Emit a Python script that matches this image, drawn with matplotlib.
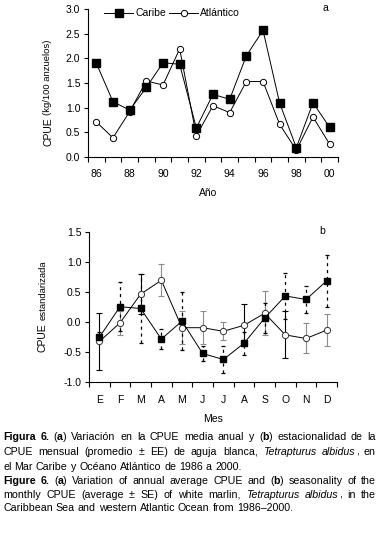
import matplotlib
matplotlib.use("Agg")
import matplotlib.pyplot as plt
from matplotlib.lines import Line2D
from matplotlib.ticker import FormatStrFormatter
import numpy as np

plt.rcParams['font.family'] = ['Liberation Sans', 'DejaVu Sans']
plt.rcParams['axes.unicode_minus'] = False

# panel a: annual CPUE
years = [1986, 1987, 1988, 1989, 1990, 1991, 1992, 1993, 1994, 1995, 1996, 1997, 1998, 1999, 2000]
caribe_anual = [1.90, 1.12, 0.95, 1.41, 1.91, 1.88, 0.59, 1.27, 1.17, 2.05, 2.57, 1.09, 0.19, 1.10, 0.60]
atlantico_anual = [0.71, 0.39, 0.92, 1.54, 1.46, 2.19, 0.43, 1.04, 0.90, 1.53, 1.53, 0.66, 0.14, 0.81, 0.26]

# panel b: monthly standardised CPUE (mean +/- SE)
meses = ['E', 'F', 'M', 'A', 'M', 'J', 'J', 'A', 'S', 'O', 'N', 'D']
caribe_mes = [-0.26, 0.25, 0.22, -0.29, 0.01, -0.53, -0.63, -0.36, 0.06, 0.43, 0.37, 0.68]
caribe_ee = [0.08, 0.41, 0.58, 0.17, 0.48, 0.12, 0.23, 0.19, 0.25, 0.38, 0.23, 0.43]
atlantico_mes = [-0.33, -0.02, 0.46, 0.69, -0.10, -0.10, -0.16, -0.06, 0.14, -0.22, -0.28, -0.14]
atlantico_ee = [0.48, 0.20, 0.34, 0.27, 0.27, 0.27, 0.15, 0.35, 0.37, 0.39, 0.25, 0.27]
# bars of the Atlantic series that come out black instead of grey
atl_negro = [True, False, True, False, False, False, False, True, False, True, False, False]

W, H = 380, 533
fig = plt.figure(figsize=(W / 100, H / 100), dpi=100)

def px_axes(left, top, right, bottom):
    return fig.add_axes([left / W, 1 - bottom / H, (right - left) / W, (bottom - top) / H])

def style_axes(ax):
    for s in ['top', 'right']:
        ax.spines[s].set_visible(False)
    for s in ['left', 'bottom']:
        ax.spines[s].set_linewidth(0.8)
    ax.tick_params(axis='y', direction='out', length=3, width=0.8, labelsize=7.5, pad=2.5)
    ax.tick_params(axis='x', which='major', length=0, labelsize=7.5, pad=8.5)
    ax.tick_params(axis='x', which='minor', direction='out', length=3.5, width=0.8)
    ax.yaxis.set_major_formatter(FormatStrFormatter('%.1f'))

# ---- panel a
ax1 = px_axes(88, 9, 338, 157)
ax1.plot(years, atlantico_anual, color='black', lw=0.7, marker='o', ms=4.5,
         mfc='white', mec='black', mew=0.7, zorder=2)
ax1.plot(years, caribe_anual, color='black', lw=0.7, marker='s', ms=6,
         mfc='black', mec='black', zorder=3)
ax1.set_xlim(1985.5, 2000.5)
ax1.set_ylim(0, 3.0)
ax1.set_yticks(np.arange(0, 3.01, 0.5))
ax1.set_xticks(years[::2])
ax1.set_xticklabels(['%02d' % (y % 100) for y in years[::2]])
ax1.set_xticks(np.arange(1985.5, 2001, 1), minor=True)
style_axes(ax1)

h1 = Line2D([], [], color='black', lw=0.7, marker='s', ms=6, mfc='black')
h2 = Line2D([], [], color='black', lw=0.7, marker='o', ms=4.5, mfc='white', mew=0.7)
fig.legend([h1, h2], ['Caribe', 'Atlántico'], loc='center left',
           bbox_to_anchor=(104 / W, 1 - 13.5 / H), ncol=2, frameon=False,
           fontsize=7.5, handlelength=2.8, handletextpad=0.2, columnspacing=0.3,
           borderpad=0, borderaxespad=0)
fig.text(325 / W, 1 - 8 / H, 'a', fontsize=7.5, ha='center', va='center')
fig.text(208 / W, 1 - 193 / H, 'Año', fontsize=7.5, ha='center', va='center')
fig.text(48 / W, 1 - 146 / H, 'CPUE', fontsize=7.5, rotation=90, ha='center', va='bottom')
fig.text(48 / W, 1 - 115 / H, '(kg/100 anzuelos)', fontsize=6.8, rotation=90,
         ha='center', va='bottom')

# ---- panel b
ax2 = px_axes(89, 231.7, 337, 381.7)
x = np.arange(1, 13)
atl_m = np.array(atlantico_mes)
atl_e = np.array(atlantico_ee)
negro = np.array(atl_negro)
for sel, col in [(~negro, '#8c8c8c'), (negro, 'black')]:
    ax2.errorbar(x[sel], atl_m[sel], yerr=atl_e[sel], fmt='none', ecolor=col,
                 elinewidth=0.8, capsize=2.5, capthick=0.8, zorder=2)
eb = ax2.errorbar(x, caribe_mes, yerr=caribe_ee, fmt='none', ecolor='black',
                  elinewidth=0.9, capsize=1.2, capthick=0.9, zorder=2)
eb[2][0].set_linestyle((0, (2.5, 3)))
ax2.plot(x, atlantico_mes, color='black', lw=0.7, marker='o', ms=4.5,
         mfc='white', mec='#333333', mew=0.7, zorder=3)
ax2.plot(x, caribe_mes, color='black', lw=0.7, marker='s', ms=5,
         mfc='black', mec='black', zorder=4)
ax2.set_xlim(0.5, 12.5)
ax2.set_ylim(-1.0, 1.5)
ax2.set_yticks(np.arange(-1.0, 1.51, 0.5))
ax2.set_xticks(x)
ax2.set_xticklabels(meses)
ax2.set_xticks(np.arange(0.5, 12.6, 1), minor=True)
style_axes(ax2)
ax2.tick_params(axis='x', which='major', pad=9.5)
fig.text(322 / W, 1 - 231 / H, 'b', fontsize=7.5, ha='center', va='center')
fig.text(213 / W, 1 - 419 / H, 'Mes', fontsize=7.5, ha='center', va='center')
fig.text(43 / W, 1 - 352 / H, 'CPUE', fontsize=7.5, rotation=90, ha='center', va='bottom')
fig.text(43 / W, 1 - 320 / H, 'estandarizada', fontsize=6.8, rotation=90,
         ha='center', va='bottom')

# ---- caption, justified word by word
caption = [
    ([("Figura 6.", "b"), (" (", "n"), ("a", "b"), (") Variación en la CPUE media anual y (", "n"),
      ("b", "b"), (") estacionalidad de la", "n")], True),
    ([("CPUE mensual (promedio ± EE) de aguja blanca, ", "n"), ("Tetrapturus albidus", "i"),
      (", en", "n")], True),
    ([("el Mar Caribe y Océano Atlántico de 1986 a 2000.", "n")], False),
    ([("Figure 6.", "b"), (" (", "n"), ("a", "b"), (") Variation of annual average CPUE and (", "n"),
      ("b", "b"), (") seasonality of the", "n")], True),
    ([("monthly CPUE (average ± SE) of white marlin, ", "n"), ("Tetrapturus albidus", "i"),
      (", in the", "n")], True),
    ([("Caribbean Sea and western Atlantic Ocean from 1986–2000.", "n")], False),
]
baselines = [440, 455, 469.5, 484, 497.5, 511]
x_left, x_right = 3, 376
cap_size = 7.7

renderer = fig.canvas.get_renderer()

def piece_kw(st):
    return dict(fontsize=cap_size, fontweight='bold' if st == 'b' else 'normal',
                fontstyle='italic' if st == 'i' else 'normal')

def width_px(s, st):
    t = fig.text(0, 0, s, **piece_kw(st))
    w = t.get_window_extent(renderer).width
    t.remove()
    return w

space_w = width_px('a a', 'n') - width_px('aa', 'n')

for (segs, justify), yb in zip(caption, baselines):
    words = [[]]
    for txt, st in segs:
        parts = txt.split(' ')
        for i, p in enumerate(parts):
            if i > 0:
                words.append([])
            if p:
                words[-1].append((p, st))
    words = [w for w in words if w]
    widths = [[width_px(p, st) for p, st in w] for w in words]
    total = sum(sum(ws) for ws in widths)
    gap = (x_right - x_left - total) / (len(words) - 1) if justify else space_w
    xp = x_left
    for w, ws in zip(words, widths):
        for (p, st), pw in zip(w, ws):
            fig.text(xp / W, 1 - yb / H, p, ha='left', va='baseline', **piece_kw(st))
            xp += pw
        xp += gap

fig.savefig('out.png', dpi=100)
